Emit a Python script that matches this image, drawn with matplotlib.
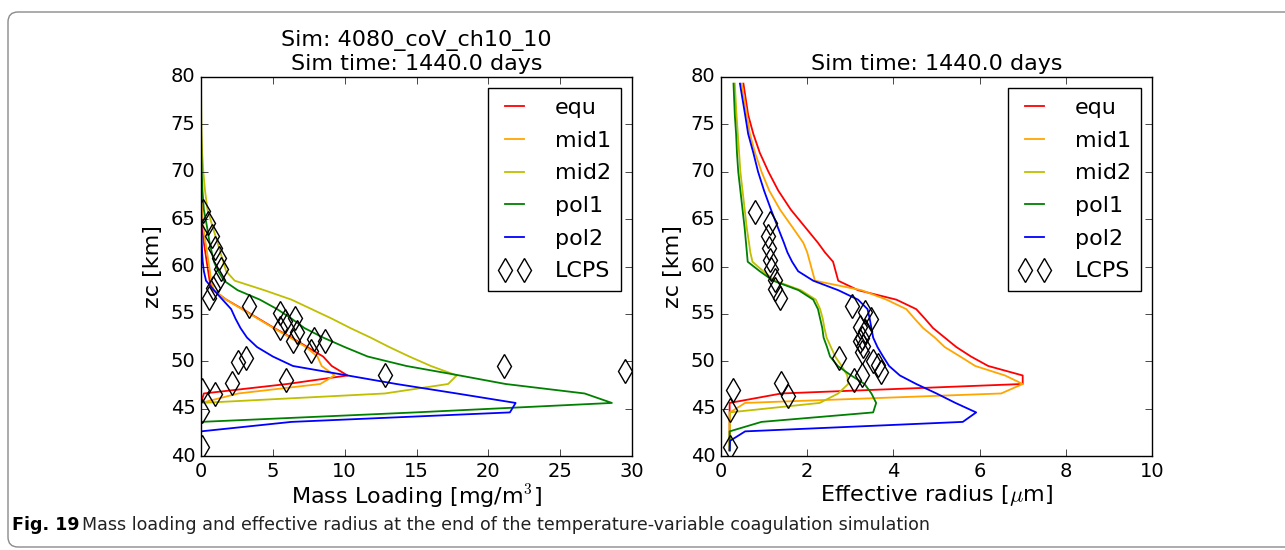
import numpy as np
import matplotlib
matplotlib.use('Agg')
import matplotlib.pyplot as plt
from matplotlib.patches import FancyBboxPatch
from matplotlib.transforms import IdentityTransform

# model altitude grid [km]
zc = [40.6, 41.6, 42.6, 43.6, 44.6, 45.6, 46.6, 47.6, 48.5, 49.5, 50.5,
      51.5, 52.5, 53.5, 54.5, 55.5, 56.5, 57.5, 58.5, 59.5, 60.5, 61.5,
      62.5, 64.0, 66.0, 68.0, 70.0, 72.0, 74.0, 76.0, 79.3]

# mass loading [mg/m^3]
ml_equ = [0, 0, 0, 0, 0, 0, 0.2, 6.0, 10.2, 9.1, 8.5,
          7.4, 6.3, 5.1, 4.0, 2.9, 1.76, 0.85, 0.6, 0.5, 0.4, 0.3,
          0.2, 0.1, 0.05, 0.02, 0.01, 0, 0, 0, 0]
ml_mid1 = [0, 0, 0, 0, 0, 0, 2.6, 8.3, 9.3, 8.4, 8.1,
           7.3, 6.2, 5.05, 3.95, 2.85, 1.75, 0.9, 0.7, 0.62, 0.52, 0.42,
           0.32, 0.18, 0.08, 0.03, 0.01, 0, 0, 0, 0]
ml_mid2 = [0, 0, 0, 0, 0, 0, 12.8, 17.2, 17.8, 16.0, 14.5,
           13.1, 11.8, 10.4, 9.1, 7.7, 6.3, 4.4, 2.35, 1.75, 1.55, 1.35,
           1.15, 0.85, 0.45, 0.28, 0.16, 0.08, 0.04, 0.02, 0]
ml_pol1 = [0, 0, 0, 0, 14.9, 28.6, 26.7, 21.2, 18.0, 14.3, 11.6,
           10.0, 8.5, 7.2, 6.3, 5.3, 4.1, 2.55, 1.6, 1.2, 0.9, 0.75,
           0.6, 0.44, 0.2, 0.1, 0.05, 0.02, 0.01, 0, 0]
ml_pol2 = [0, 0, 0, 6.3, 21.5, 21.9, 17.8, 13.6, 10.2, 6.4, 5.0,
           3.9, 3.2, 2.75, 2.4, 2.1, 1.5, 0.9, 0.35, 0.2, 0.12, 0.08,
           0.05, 0.03, 0.01, 0, 0, 0, 0, 0, 0]

# effective radius [um]
re_equ = [0.2, 0.2, 0.2, 0.2, 0.2, 0.2, 1.4, 7.0, 7.0, 6.2, 5.8,
          5.46, 5.19, 4.92, 4.73, 4.53, 4.07, 3.18, 2.72, 2.66, 2.6, 2.41,
          2.25, 1.98, 1.62, 1.33, 1.1, 0.9, 0.75, 0.63, 0.52]
re_mid1 = [0.2, 0.2, 0.2, 0.2, 0.21, 0.56, 6.5, 7.0, 6.59, 5.9, 5.55,
           5.19, 4.96, 4.69, 4.49, 4.3, 3.84, 3.26, 2.18, 2.12, 2.06, 2.0,
           1.91, 1.68, 1.37, 1.12, 0.94, 0.79, 0.67, 0.6, 0.48]
re_mid2 = [0.2, 0.2, 0.2, 0.2, 0.2, 2.29, 2.72, 2.95, 2.93, 2.8, 2.65,
           2.55, 2.45, 2.4, 2.36, 2.3, 2.2, 1.85, 1.25, 0.98, 0.73, 0.68,
           0.65, 0.6, 0.55, 0.5, 0.45, 0.42, 0.39, 0.36, 0.32]
re_pol1 = [0.2, 0.2, 0.2, 0.94, 3.53, 3.6, 3.49, 3.33, 3.02, 2.71, 2.53,
           2.46, 2.38, 2.35, 2.3, 2.25, 2.14, 1.8, 1.21, 0.9, 0.62, 0.6,
           0.58, 0.55, 0.5, 0.45, 0.4, 0.37, 0.35, 0.32, 0.29]
re_pol2 = [0.2, 0.21, 0.56, 5.61, 5.92, 5.44, 5.0, 4.53, 4.15, 3.9, 3.76,
           3.63, 3.53, 3.49, 3.45, 3.4, 3.18, 2.72, 2.14, 1.79, 1.65, 1.54,
           1.46, 1.33, 1.16, 1.0, 0.86, 0.75, 0.63, 0.56, 0.44]

# LCPS measurements
lcps_ml = [0.14, 0.49, 0.77, 1.0, 1.23, 1.41, 1.18, 0.84, 0.53, 3.32,
           5.47, 6.57, 5.82, 5.47, 6.7, 6.4, 7.86, 8.6, 7.63, 3.15,
           2.57, 2.16, 5.94, 1.0, 0.07, 0.07, 0.07, 12.8, 21.1, 29.5]
lcps_ml_z = [65.85, 64.6, 63.2, 62.0, 60.9, 59.7, 58.6, 57.75, 56.7, 55.8,
             55.1, 54.6, 54.2, 53.5, 53.1, 52.1, 52.4, 52.1, 51.1, 50.3,
             49.9, 47.7, 48.0, 46.5, 47.0, 44.7, 41.0, 48.6, 49.5, 49.0]
lcps_re = [0.78, 1.13, 1.09, 1.11, 1.13, 1.17, 1.26, 1.25, 1.36, 3.04,
           3.33, 3.49, 3.22, 3.33, 3.26, 3.22, 3.29, 3.27, 2.73, 3.53,
           3.64, 3.72, 3.27, 3.09, 1.4, 1.55, 0.28, 0.2, 0.2]
lcps_re_z = [65.7, 64.6, 63.2, 62.0, 60.7, 59.7, 58.6, 57.6, 56.7, 55.8,
             55.2, 54.5, 53.6, 53.2, 52.5, 52.1, 51.6, 51.0, 50.3, 50.05,
             49.6, 48.9, 48.6, 48.0, 47.7, 46.3, 47.0, 44.9, 41.0]

labels = ['equ', 'mid1', 'mid2', 'pol1', 'pol2']
colors = ['r', 'orange', 'y', 'g', 'b']

plt.style.use('classic')
plt.rcParams['font.family'] = ['DejaVu Sans']
plt.rcParams['xtick.labelsize'] = 14
plt.rcParams['ytick.labelsize'] = 14

W, H = 1285, 550
fig = plt.figure(figsize=(W / 100, H / 100), dpi=100, facecolor='white')
ax1 = fig.add_axes([201 / W, 1 - 456 / H, 431 / W, 379 / H])
ax2 = fig.add_axes([721 / W, 1 - 456 / H, 431 / W, 379 / H])


def draw(ax, series, lx, lz):
    for vals, lab, col in zip(series, labels, colors):
        ax.plot(vals, zc, color=col, lw=1.3, label=lab)
    ax.plot(lx, lz, 'd', ms=12, mfc='none', mec='k', mew=1.0,
            label='LCPS')
    ax.set_ylim(40, 80)
    ax.set_ylabel('zc [km]', fontsize=16)
    ax.legend(loc='upper right', fontsize=16, numpoints=2,
              handlelength=1.45, handletextpad=1.1, borderpad=0.45,
              labelspacing=0.57, fancybox=False)
    ax.tick_params(direction='in', length=5)


draw(ax1, [ml_equ, ml_mid1, ml_mid2, ml_pol1, ml_pol2], lcps_ml, lcps_ml_z)
ax1.set_xlim(0, 30)
ax1.set_xlabel('Mass Loading [mg/m$^3$]', fontsize=16, labelpad=2)
ax1.set_title('Sim: 4080_coV_ch10_10\nSim time: 1440.0 days', fontsize=16)

draw(ax2, [re_equ, re_mid1, re_mid2, re_pol1, re_pol2], lcps_re, lcps_re_z)
ax2.set_xlim(0, 10)
ax2.set_xlabel(r'Effective radius [$\mu$m]', fontsize=16, labelpad=2)
ax2.set_title('Sim time: 1440.0 days', fontsize=16)

# page frame and caption
frame = FancyBboxPatch((8, 3), 1300, 535, boxstyle='round,pad=0,rounding_size=10',
                       transform=IdentityTransform(), fill=False,
                       ec='#8a8a8a', lw=1.0)
fig.patches.append(frame)
fig.text(12 / W, 1 - 530 / H, 'Fig. 19', fontsize=12.6, fontweight='bold',
         va='baseline')
fig.text(82 / W, 1 - 530 / H,
         'Mass loading and effective radius at the end of the '
         'temperature-variable coagulation simulation',
         fontsize=12.6, va='baseline', color='#222222')

fig.savefig('out.png', dpi=100, facecolor='white')
